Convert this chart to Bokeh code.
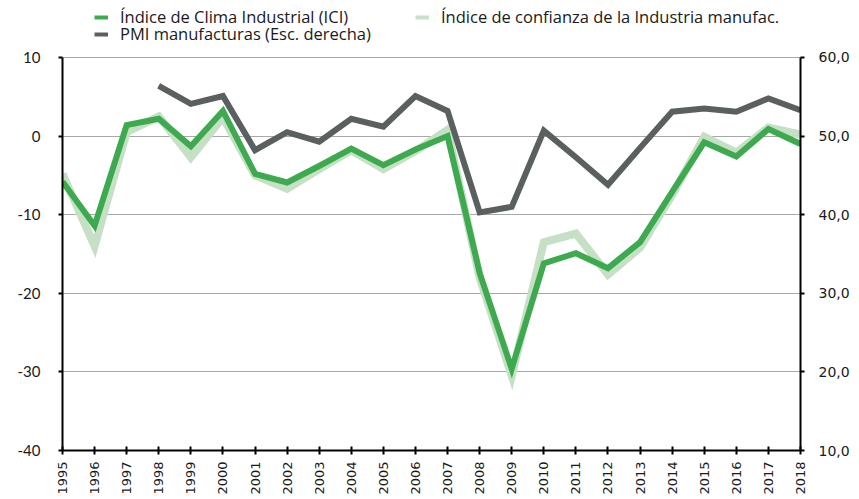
import math
from bokeh.plotting import figure
from bokeh.models import Range1d, LinearAxis, FixedTicker, Legend, LegendItem
from bokeh.embed import file_html
from bokeh.resources import INLINE

# ---- data ----
years = list(range(1995, 2019))
ici = [-5.8, -11.4, 1.4, 2.2, -1.3, 3.2, -4.8, -5.9, -3.8, -1.6, -3.7, -1.7,
       0.0, -17.4, -29.6, -16.2, -14.9, -16.8, -13.5, -7.1, -0.8, -2.6, 0.9, -1.0]
confianza = [-4.8, -14.0, 0.5, 2.5, -2.7, 2.4, -5.0, -6.7, -4.2, -1.8, -4.2, -1.9,
             0.8, -18.0, -30.5, -13.5, -12.4, -17.6, -14.2, -7.5, -0.1, -2.1, 1.1, 0.2]
pmi_years = list(range(1998, 2019))
pmi = [56.4, 54.1, 55.1, 48.2, 50.5, 49.3, 52.2, 51.2, 55.1, 53.2, 40.3, 41.0,
       50.7, 47.3, 43.8, 48.5, 53.1, 53.5, 53.1, 54.8, 53.3]

left_ticks = [-40, -30, -20, -10, 0, 10]
left_labels = ["-40", "-30", "-20", "-10", "0", "10"]
right_ticks = [10, 20, 30, 40, 50, 60]
right_labels = ["10,0", "20,0", "30,0", "40,0", "50,0", "60,0"]

label_ici = "Índice de Clima Industrial (ICI)"
label_conf = "Índice de confianza de la Industria manufac."
label_pmi = "PMI manufacturas (Esc. derecha)"

C_ICI = "#3DAA50"
C_CONF = "#C5E0C4"
C_PMI = "#5A5F60"

# axis ranges: data spans -40..10 (left) / 10..60 (right); extra headroom holds the legend
Y_TOP_PAD = 7.25
p = figure(width=859, height=499, output_backend="svg", toolbar_location=None,
           x_range=Range1d(years[0], years[-1]),
           y_range=Range1d(left_ticks[0], left_ticks[-1] + Y_TOP_PAD),
           min_border_left=62, min_border_right=59, min_border_top=0,
           min_border_bottom=49)
p.outline_line_color = None
p.background_fill_color = "white"
p.extra_y_ranges = {"pmi": Range1d(right_ticks[0], right_ticks[-1] + Y_TOP_PAD)}

# thin legend-stroke copies, hidden beneath the real lines
d_conf = p.line(years, confianza, line_color=C_CONF, line_width=4)
d_pmi = p.line(pmi_years, pmi, line_color=C_PMI, line_width=4, y_range_name="pmi")
d_ici = p.line(years, ici, line_color=C_ICI, line_width=4)

# lines
r_conf = p.line(years, confianza, line_color=C_CONF, line_width=8, line_join="miter")
r_pmi = p.line(pmi_years, pmi, line_color=C_PMI, line_width=6, line_join="miter",
               y_range_name="pmi")
r_ici = p.line(years, ici, line_color=C_ICI, line_width=6, line_join="miter")

# axes
p.xaxis.ticker = FixedTicker(ticks=years)
p.xaxis.major_label_orientation = math.pi / 2
p.xaxis.major_label_text_font = "DejaVu Sans"
p.xaxis.major_label_text_font_size = "13px"
p.xaxis.major_label_text_color = "#1a1a1a"
p.xaxis.major_label_standoff = 7
p.xaxis.major_tick_in = 4
p.xaxis.major_tick_out = 4
p.xaxis.minor_tick_line_color = None
p.xaxis.axis_line_width = 2
p.xaxis.axis_line_color = "black"
p.xaxis.major_tick_line_color = "black"
p.xaxis.major_tick_line_width = 2

p.yaxis.ticker = FixedTicker(ticks=left_ticks)
p.yaxis.bounds = (left_ticks[0], left_ticks[-1])
p.yaxis.major_label_overrides = dict(zip(left_ticks, left_labels))
p.yaxis.major_label_text_font = "Lato"
p.yaxis.major_label_text_font_size = "15px"
p.yaxis.major_label_text_color = "#1a1a1a"
p.yaxis.major_label_standoff = 18
p.yaxis.major_tick_in = 0
p.yaxis.major_tick_out = 4
p.yaxis.minor_tick_line_color = None
p.yaxis.axis_line_width = 2
p.yaxis.axis_line_color = "black"
p.yaxis.major_tick_line_width = 2

ax_r = LinearAxis(y_range_name="pmi", ticker=FixedTicker(ticks=right_ticks))
ax_r.bounds = (right_ticks[0], right_ticks[-1])
ax_r.major_label_overrides = dict(zip(right_ticks, right_labels))
ax_r.major_label_text_font = "DejaVu Sans"
ax_r.major_label_text_font_size = "14px"
ax_r.major_label_text_color = "#1a1a1a"
ax_r.major_label_standoff = 14
ax_r.major_tick_in = 0
ax_r.major_tick_out = 4
ax_r.minor_tick_line_color = None
ax_r.axis_line_width = 2
ax_r.axis_line_color = "black"
ax_r.major_tick_line_width = 2
p.add_layout(ax_r, "right")

p.xgrid.grid_line_color = None
p.ygrid.ticker = FixedTicker(ticks=left_ticks)
p.ygrid.grid_line_color = "#A8A8A8"
p.ygrid.grid_line_width = 1


def style_legend(lg):
    lg.padding = 0
    lg.margin = 0
    lg.spacing = 0
    lg.glyph_width = 14
    lg.glyph_height = 14
    lg.label_height = 14
    lg.label_width = 295
    lg.label_standoff = 12
    lg.label_text_font = "Open Sans"
    lg.label_text_font_size = "16.5px"
    lg.label_text_color = "#1a1a1a"
    lg.border_line_alpha = 0
    lg.background_fill_alpha = 0


legend_a = Legend(items=[LegendItem(label=label_ici, renderers=[d_ici]),
                         LegendItem(label=label_conf, renderers=[d_conf])],
                  orientation="horizontal", location=(32, 422))
legend_b = Legend(items=[LegendItem(label=label_pmi, renderers=[d_pmi])],
                  orientation="horizontal", location=(32, 405))
style_legend(legend_a)
style_legend(legend_b)
p.add_layout(legend_a, "center")
p.add_layout(legend_b, "center")

open("out.html", "w").write(file_html(p, INLINE))
